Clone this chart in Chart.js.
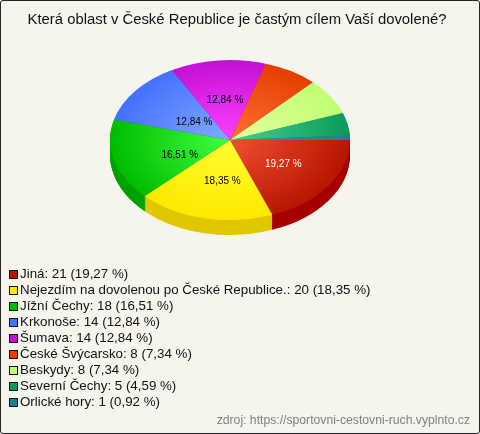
<!DOCTYPE html>
<html>
<head>
<meta charset="utf-8">
<script src="https://cdn.jsdelivr.net/npm/chart.js@4"></script>
<style>
    html, body { margin: 0; padding: 0; background: #f5f5ee; }
    #box { position: relative; width: 480px; height: 434px; background: #f5f5ee; overflow: hidden; }
    #box canvas { position: absolute; left: 0; top: 0; }
    #frame { position: absolute; left: 0; top: 0; right: 0; bottom: 0; border: 1px solid #222; border-radius: 3px; pointer-events: none; }
    #legend { position: absolute; left: 9px; top: 266px; font: 13.33px "Liberation Sans", Arial, sans-serif; color: #111; }
    #legend div { height: 16px; line-height: 16px; white-space: nowrap; }
    #legend i { display: inline-block; width: 7px; height: 7px; border: 1px solid #111; margin-right: 2px; vertical-align: -1px; }
</style>
</head>
<body>
<div id="box">
    <canvas id="pieChart" width="480" height="434"></canvas>
    <div id="legend"></div>
    <div id="frame"></div>
</div>
<script>
const titleText = 'Která oblast v České Republice je častým cílem Vaší dovolené?';
const sourceText = 'zdroj: https://sportovni-cestovni-ruch.vyplnto.cz';

const categories = ['Jiná', 'Nejezdím na dovolenou po České Republice.', 'Jížní Čechy', 'Krkonoše', 'Šumava', 'České Švýcarsko', 'Beskydy', 'Severní Čechy', 'Orlické hory'];
const counts = [21, 20, 18, 14, 14, 8, 8, 5, 1];
const percents = ['19,27', '18,35', '16,51', '12,84', '12,84', '7,34', '7,34', '4,59', '0,92'];

// barvy: okraj, stred, bocni stena
const edgeColors = ['#b81500', '#ffe800', '#00bc00', '#4470ff', '#c410d4', '#e63e00', '#c0ff70', '#0e9a5a', '#1f7f90'];
const centerColors = ['#f05030', '#ffff30', '#40ff40', '#84aaff', '#ff40ff', '#ff7030', '#e4ffa4', '#44d092', '#3a90a8'];
const sideColors = ['#a80000', '#e0c800', '#00a000', '#2a50c0', '#900aa0', '#b03000', '#90c050', '#0a7040', '#155f70'];

// popisky v kolacich
const labelRadius = [0.53, 0.53, 0.45, 0.39, 0.5, null, null, null, null];
const labelColors = ['#ffffff', '#000000', '#000000', '#000000', '#000000', null, null, null, null];
const labelNudgeX = [1, 6, 2, 1, 1, 0, 0, 0, 0];
const labelNudgeY = [0, 0, 6, 1, 0, 0, 0, 0, 0];

const squash = 2 / 3;
const depth = 15;
const shiftX = -7;

function applyTilt(chart, ctx, dy) {
    const a = chart.chartArea;
    const cx = (a.left + a.right) / 2;
    const cy = (a.top + a.bottom) / 2;
    ctx.translate(cx + shiftX, cy + dy);
    ctx.scale(1, squash);
    ctx.translate(-cx, -cy);
}

// --- naklopeni kolace + bocni stena ---
const tiltPlugin = {
    id: 'tilt',
    beforeDatasetsDraw(chart) {
        const ctx = chart.ctx;
        const arcs = chart.getDatasetMeta(0).data;
        for (let dy = depth; dy >= 1; dy--) {
            ctx.save();
            applyTilt(chart, ctx, dy);
            arcs.forEach((arc, i) => {
                const orig = arc.options;
                arc.options = { ...orig, backgroundColor: sideColors[i] };
                arc.draw(ctx);
                arc.options = orig;
            });
            ctx.restore();
        }
        ctx.save();
        applyTilt(chart, ctx, 0);
    },
    afterDatasetsDraw(chart) {
        const ctx = chart.ctx;
        ctx.restore();

        // --- procenta ---
        ctx.save();
        ctx.font = '10px "Liberation Sans", Arial, sans-serif';
        ctx.textAlign = 'center';
        ctx.textBaseline = 'middle';
        chart.getDatasetMeta(0).data.forEach((arc, i) => {
            if (labelRadius[i] === null) return;
            const p = arc.getProps(['x', 'y', 'startAngle', 'endAngle', 'outerRadius'], true);
            const mid = (p.startAngle + p.endAngle) / 2;
            const r = p.outerRadius * labelRadius[i];
            ctx.fillStyle = labelColors[i];
            ctx.fillText(percents[i] + ' %', p.x + shiftX + Math.cos(mid) * r + labelNudgeX[i], p.y + Math.sin(mid) * r * squash + labelNudgeY[i]);
        });
        ctx.restore();
    }
};

new Chart(document.getElementById('pieChart'), {
    type: 'pie',
    data: {
        labels: categories,
        datasets: [{
            data: counts,
            borderWidth: 0,
            backgroundColor: function(c) {
                const a = c.chart.chartArea;
                if (!a || c.dataIndex === undefined) return edgeColors[0];
                const cx = (a.left + a.right) / 2;
                const cy = (a.top + a.bottom) / 2;
                const r = Math.min(a.right - a.left, a.bottom - a.top) / 2;
                const g = c.chart.ctx.createRadialGradient(cx, cy, 0, cx, cy, r);
                g.addColorStop(0, centerColors[c.dataIndex]);
                g.addColorStop(1, edgeColors[c.dataIndex]);
                return g;
            }
        }]
    },
    options: {
        responsive: false,
        animation: false,
        rotation: 90,
        layout: { padding: { left: 4, right: 10, top: 0, bottom: 0 } },
        plugins: {
            legend: { display: false },
            tooltip: { enabled: false },
            title: {
                display: true,
                text: titleText,
                color: '#111',
                font: { family: '"Liberation Sans", Arial, sans-serif', size: 14.85, weight: 'normal' },
                padding: { top: 11.1, bottom: -8.9 }
            },
            subtitle: {
                display: true,
                position: 'bottom',
                align: 'end',
                text: sourceText,
                color: '#808080',
                font: { family: '"Liberation Sans", Arial, sans-serif', size: 12.2, weight: 'normal' },
                padding: { top: 153.7, bottom: 5.66 }
            }
        }
    },
    plugins: [tiltPlugin]
});

// --- Legenda ---
const legendBox = document.getElementById('legend');
categories.forEach((name, i) => {
    const row = document.createElement('div');
    const mark = document.createElement('i');
    mark.style.background = edgeColors[i];
    row.appendChild(mark);
    row.appendChild(document.createTextNode(name + ': ' + counts[i] + ' (' + percents[i] + ' %)'));
    legendBox.appendChild(row);
});
</script>
</body>
</html>
